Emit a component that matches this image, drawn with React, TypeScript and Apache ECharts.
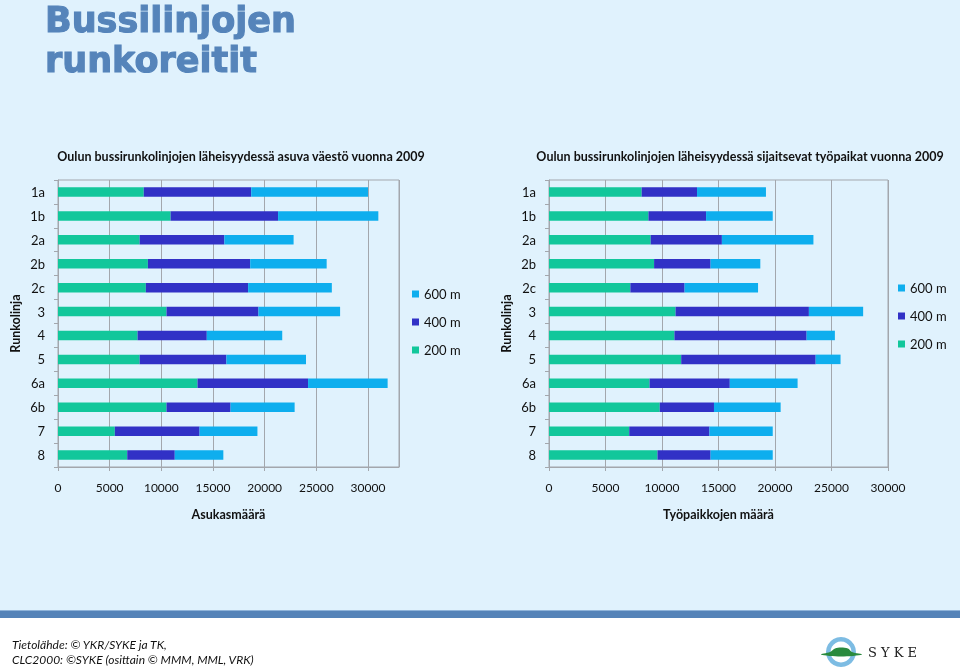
import React, { useEffect, useRef } from "react";
import * as echarts from "echarts";

const categories = ["1a", "1b", "2a", "2b", "2c", "3", "4", "5", "6a", "6b", "7", "8"];
const seriesNames = ["200 m", "400 m", "600 m"];
const legendOrder = ["600 m", "400 m", "200 m"];

// Asukasmäärä (population) — stacked segments
const pop200 = [8300, 10900, 7900, 8700, 8500, 10500, 7700, 7900, 13500, 10500, 5500, 6700];
const pop400 = [10400, 10400, 8200, 9900, 9900, 8900, 6700, 8400, 10700, 6200, 8200, 4600];
const pop600 = [11300, 9700, 6700, 7400, 8100, 7900, 7300, 7700, 7700, 6200, 5600, 4700];

// Työpaikkojen määrä (jobs) — stacked segments
const job200 = [8200, 8800, 9000, 9300, 7200, 11200, 11100, 11700, 8900, 9800, 7100, 9600];
const job400 = [4900, 5100, 6300, 5000, 4800, 11800, 11700, 11900, 7100, 4800, 7100, 4700];
const job600 = [6100, 5900, 8100, 4400, 6500, 4800, 2500, 2200, 6000, 5900, 5600, 5500];

const xTicksLeft = { min: 0, max: 33000, interval: 5000 };
const xTicksRight = { min: 0, max: 30000, interval: 5000 };

const title1 = "Bussilinjojen";
const title2 = "runkoreitit";
const subLeft = "Oulun bussirunkolinjojen läheisyydessä asuva väestö vuonna 2009";
const subRight = "Oulun bussirunkolinjojen läheisyydessä sijaitsevat työpaikat vuonna 2009";
const xNameLeft = "Asukasmäärä";
const xNameRight = "Työpaikkojen määrä";
const yName = "Runkolinja";
const source1 = "Tietolähde: © YKR/SYKE ja TK,";
const source2 = "CLC2000: ©SYKE (osittain © MMM, MML, VRK)";

const COLORS = ["#12C79B", "#3131C6", "#0EAEEE"];
const FONT = "Lato";
const GRID_COLOR = "#A3A7AD";

export default function App() {
  const ref = useRef<HTMLDivElement>(null);

  useEffect(() => {
    document.body.style.margin = "0";
    const chart = echarts.init(ref.current!, null, { renderer: "svg" });

    const makeX = (idx: number, ticks: any, name: string) => ({
      type: "value",
      gridIndex: idx,
      min: ticks.min,
      max: ticks.max,
      interval: ticks.interval,
      name,
      nameLocation: "middle",
      nameGap: 41,
      nameTextStyle: { fontFamily: FONT, fontWeight: "bold", fontSize: 12.5, color: "#111" },
      axisLine: { show: true, lineStyle: { color: GRID_COLOR } },
      axisTick: { show: true, length: 4, lineStyle: { color: GRID_COLOR } },
      axisLabel: {
        fontFamily: FONT,
        fontSize: 12,
        color: "#111",
        margin: 14,
        showMaxLabel: idx === 1,
        formatter: (v: number) => String(v),
      },
      splitLine: { show: true, lineStyle: { color: GRID_COLOR } },
    });

    const makeY = (idx: number) => ({
      type: "category",
      gridIndex: idx,
      data: categories,
      inverse: true,
      name: yName,
      nameLocation: "middle",
      nameGap: 36,
      nameRotate: 90,
      nameTextStyle: { fontFamily: FONT, fontWeight: "bold", fontSize: 12.5, color: "#111" },
      axisLine: { show: true, lineStyle: { color: GRID_COLOR } },
      axisTick: { show: true, length: 4, lineStyle: { color: GRID_COLOR } },
      axisLabel: { fontFamily: FONT, fontSize: 13, color: "#111", margin: 13 },
      splitLine: { show: false },
    });

    const makeSeries = (idx: number, data: number[][], stack: string) =>
      seriesNames.map((n, i) => ({
        type: "bar",
        name: n,
        stack,
        xAxisIndex: idx,
        yAxisIndex: idx,
        data: data[i],
        barWidth: 9.5,
        itemStyle: { color: COLORS[i] },
        emphasis: { disabled: true },
      }));

    const legendBase = {
      orient: "vertical",
      data: legendOrder,
      icon: "rect",
      itemWidth: 7,
      itemHeight: 7,
      itemGap: 14,
      padding: 0,
      selectedMode: false,
      textStyle: { fontFamily: FONT, fontSize: 13, color: "#111", lineHeight: 14 },
    };

    const titleStyle = {
      fontFamily: "DejaVu Sans",
      fontWeight: "bold",
      fontSize: 35,
      lineHeight: 32,
      fill: "#5584BA",
      stroke: "#5584BA",
      lineWidth: 1.1,
      verticalAlign: "middle",
    };

    chart.setOption({
      animation: false,
      color: COLORS,
      grid: [
        { left: 58, right: 561, top: 180, height: 287, show: true, borderColor: GRID_COLOR, borderWidth: 1, backgroundColor: "transparent" },
        { left: 549, right: 72, top: 180, height: 287, show: true, borderColor: GRID_COLOR, borderWidth: 1, backgroundColor: "transparent" },
      ],
      xAxis: [makeX(0, xTicksLeft, xNameLeft), makeX(1, xTicksRight, xNameRight)],
      yAxis: [makeY(0), makeY(1)],
      legend: [
        { ...legendBase, left: 412, top: 287 },
        { ...legendBase, left: 898, top: 281 },
      ],
      series: [
        ...makeSeries(0, [pop200, pop400, pop600], "pop"),
        ...makeSeries(1, [job200, job400, job600], "job"),
      ],
      graphic: [
        { type: "rect", z: -10, shape: { x: 0, y: 0, width: 960, height: 618 }, style: { fill: "#E0F2FD" }, silent: true },
        { type: "rect", z: -10, shape: { x: 0, y: 618, width: 960, height: 54 }, style: { fill: "#FFFFFF" }, silent: true },
        { type: "rect", z: -9, shape: { x: 0, y: 611, width: 960, height: 7 }, style: { fill: "#5583B8" }, silent: true },
        { type: "rect", z: -9, shape: { x: 0, y: 610, width: 960, height: 1 }, style: { fill: "#8FB3D9" }, silent: true },
        { type: "text", x: 45, y: 19.5, style: { text: title1, ...titleStyle } },
        { type: "text", x: 45, y: 59.5, style: { text: title2, ...titleStyle } },
        {
          type: "text", x: 241, y: 156,
          style: { text: subLeft, fontFamily: FONT, fontWeight: "bold", fontSize: 12.5, fill: "#111", align: "center", verticalAlign: "middle" },
        },
        {
          type: "text", x: 740, y: 156,
          style: { text: subRight, fontFamily: FONT, fontWeight: "bold", fontSize: 12.5, fill: "#111", align: "center", verticalAlign: "middle" },
        },
        {
          type: "text", x: 12, y: 644,
          style: { text: source1, fontFamily: FONT, fontStyle: "italic", fontSize: 12, fill: "#111", verticalAlign: "middle" },
        },
        {
          type: "text", x: 12, y: 659,
          style: { text: source2, fontFamily: FONT, fontStyle: "italic", fontSize: 12, fill: "#111", verticalAlign: "middle" },
        },
        // SYKE logo
        { type: "ring", shape: { cx: 841, cy: 652, r: 15, r0: 10.5 }, style: { fill: "#7DBCE3" }, silent: true },
        {
          type: "polygon",
          shape: { points: [[821, 654.5], [830, 652], [835, 648.5], [841, 647.5], [848, 648.5], [852, 652], [862, 654.5], [841, 656.5]], smooth: 0.35 },
          style: { fill: "#2A8A3E" },
          silent: true,
        },
        {
          type: "text", x: 868, y: 652,
          style: { text: "S Y K E", fontFamily: "DejaVu Serif", fontSize: 13, fill: "#222", verticalAlign: "middle" },
        },
      ],
    });

    return () => chart.dispose();
  }, []);

  return <div ref={ref} style={{ position: "fixed", left: 0, top: 0, width: 960, height: 672 }} />;
}
